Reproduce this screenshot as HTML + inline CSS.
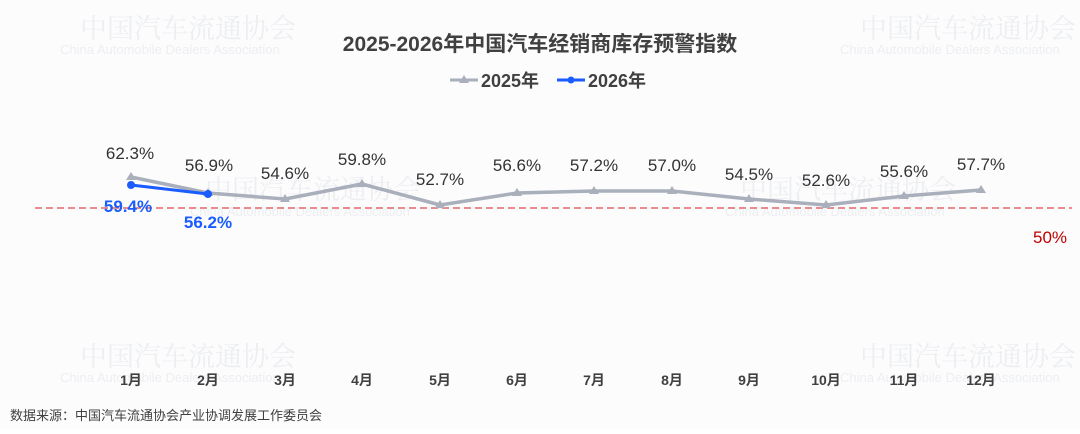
<!DOCTYPE html>
<html><head><meta charset="utf-8"><style>
html,body{margin:0;padding:0;background:#fff;}
svg text{font-family:"Liberation Sans","Noto Sans CJK SC",sans-serif;}
</style></head><body>
<svg width="1080" height="429" viewBox="0 0 1080 429" xmlns="http://www.w3.org/2000/svg">
<rect width="1080" height="429" fill="#fcfcfd"/>
<g fill="#eceef1">
<text x="80" y="38" font-size="27" style="font-family:'Noto Serif CJK SC',serif">中国汽车流通协会</text>
<text x="60" y="54" font-size="13">China Automobile Dealers Association</text>
<text x="860" y="38" font-size="27" style="font-family:'Noto Serif CJK SC',serif">中国汽车流通协会</text>
<text x="840" y="54" font-size="13">China Automobile Dealers Association</text>
<text x="205" y="199" font-size="27" style="font-family:'Noto Serif CJK SC',serif">中国汽车流通协会</text>
<text x="190" y="216" font-size="13">China Automobile Dealers Association</text>
<text x="740" y="199" font-size="27" style="font-family:'Noto Serif CJK SC',serif">中国汽车流通协会</text>
<text x="725" y="216" font-size="13">China Automobile Dealers Association</text>
<text x="80" y="366" font-size="27" style="font-family:'Noto Serif CJK SC',serif">中国汽车流通协会</text>
<text x="60" y="382" font-size="13">China Automobile Dealers Association</text>
<text x="860" y="366" font-size="27" style="font-family:'Noto Serif CJK SC',serif">中国汽车流通协会</text>
<text x="840" y="382" font-size="13">China Automobile Dealers Association</text>
</g>
<text x="540" y="51" text-anchor="middle" font-size="21" font-weight="bold" fill="#404040">2025-2026年中国汽车经销商库存预警指数</text>
<line x1="450" y1="80" x2="478" y2="80" stroke="#a9afbb" stroke-width="3"/>
<polygon points="464,75 469,83 459,83" fill="#a9afbb"/>
<text x="481" y="87" font-size="18" font-weight="bold" fill="#404040">2025年</text>
<line x1="557" y1="80" x2="585" y2="80" stroke="#1a5cff" stroke-width="3"/>
<circle cx="571" cy="80" r="3.5" fill="#1a5cff"/>
<text x="588" y="87" font-size="18" font-weight="bold" fill="#404040">2026年</text>
<line x1="35" y1="208" x2="1072" y2="208" stroke="#e0474c" stroke-width="1.3" stroke-dasharray="7,4"/>
<text x="1050" y="243" text-anchor="middle" font-size="17" fill="#c00000">50%</text>
<polyline fill="none" stroke="#a9afbb" stroke-width="3.5" stroke-linejoin="round" points="131,177 208,193 285,199 362,184 440,205 517,193 594,191 672,191 749,199 826,205 904,196 981,190"/>
<g fill="#a9afbb">
<polygon points="131,172 136,180 126,180"/><polygon points="208,188 213,196 203,196"/><polygon points="285,194 290,202 280,202"/><polygon points="362,179 367,187 357,187"/><polygon points="440,200 445,208 435,208"/><polygon points="517,188 522,196 512,196"/><polygon points="594,186 599,194 589,194"/><polygon points="672,186 677,194 667,194"/><polygon points="749,194 754,202 744,202"/><polygon points="826,200 831,208 821,208"/><polygon points="904,191 909,199 899,199"/><polygon points="981,185 986,193 976,193"/>
</g>
<polyline fill="none" stroke="#1a5cff" stroke-width="3" points="131,185 208,194"/>
<circle cx="131" cy="185" r="4" fill="#1a5cff"/><circle cx="208" cy="194" r="4" fill="#1a5cff"/>
<g font-size="17" fill="#333" text-anchor="middle">
<text x="130" y="159">62.3%</text><text x="209" y="171">56.9%</text><text x="285" y="179">54.6%</text><text x="362" y="165">59.8%</text><text x="440" y="185">52.7%</text><text x="517" y="171">56.6%</text><text x="594" y="171">57.2%</text><text x="672" y="171">57.0%</text><text x="749" y="180">54.5%</text><text x="826" y="186">52.6%</text><text x="904" y="177">55.6%</text><text x="981" y="170">57.7%</text>
</g>
<g font-size="17" font-weight="bold" fill="#1a5cff" text-anchor="middle">
<text x="128" y="212">59.4%</text><text x="208" y="228">56.2%</text>
</g>
<g font-size="14" font-weight="bold" fill="#404040" text-anchor="middle">
<text x="131" y="385">1月</text><text x="208" y="385">2月</text><text x="285" y="385">3月</text><text x="362" y="385">4月</text><text x="440" y="385">5月</text><text x="517" y="385">6月</text><text x="594" y="385">7月</text><text x="672" y="385">8月</text><text x="749" y="385">9月</text><text x="826" y="385">10月</text><text x="904" y="385">11月</text><text x="981" y="385">12月</text>
</g>
<text x="10" y="420" font-size="13" fill="#404040">数据来源：中国汽车流通协会产业协调发展工作委员会</text>
</svg>
</body></html>
